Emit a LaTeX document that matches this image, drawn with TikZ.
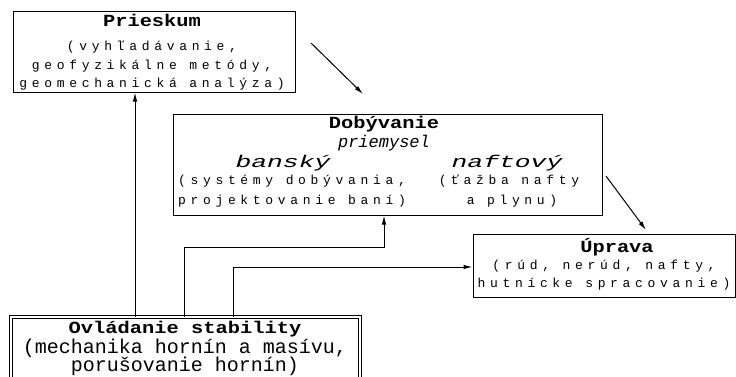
\documentclass[tikz,border=0pt]{standalone}
\usepackage{fontspec}
\setmonofont{Liberation Mono}
\newfontfamily\headfont[FakeStretch=1.2]{Liberation Mono}
\newfontfamily\spacedfont[LetterSpace=36]{Liberation Mono}
\newfontfamily\widefont[FakeStretch=1.55]{Liberation Mono}
\usetikzlibrary{arrows.meta}
\tikzset{
  box/.style={draw,line width=1pt,inner sep=0pt},
  head/.style={anchor=base,inner sep=0pt,font=\fontsize{17}{18}\selectfont\headfont\bfseries},
  sub/.style={anchor=base,inner sep=0pt,font=\fontsize{17}{18}\selectfont\ttfamily\itshape},
  wide/.style={anchor=base,inner sep=0pt,font=\fontsize{17}{18}\selectfont\widefont\itshape},
  body/.style={anchor=base,inner sep=0pt,font=\fontsize{13}{14}\selectfont\spacedfont},
  plain/.style={anchor=base,inner sep=0pt,font=\fontsize{20}{21}\selectfont\ttfamily}
}
\begin{document}
\begin{tikzpicture}[x=1pt,y=-1pt,line width=1pt,>={Latex[length=9pt,width=4.5pt]}]
  \useasboundingbox (0,0) rectangle (736,376);
  \clip (0,0) rectangle (736,376);
  \node[box,minimum width=282pt,minimum height=81pt] (prieskum) at (154,51.5) {};
  \node[box,minimum width=429pt,minimum height=101pt] (dobyvanie) at (387.5,164.5) {};
  \node[box,minimum width=262pt,minimum height=63pt] (uprava) at (604,265.5) {};
  \node[box,double,double distance=2pt,minimum width=349pt,minimum height=90pt] (ovladanie) at (185.5,362) {};
  % Prieskum
  \node[head] (pr0) at (152,26) {Prieskum};
  \node[body] (pr1) at (152,50) {(vyhľadávanie,};
  \node[body] (pr2) at (152,69) {geofyzikálne metódy,};
  \node[body] (pr3) at (152,87) {geomechanická analýza)};
  % Dobyvanie
  \node[head] (do0) at (384,128) {Dobývanie};
  \node[sub] (do1) at (384,147) {priemysel};
  \node[wide] (ba0) at (283,167) {banský};
  \node[wide] (na0) at (507,167) {naftový};
  \node[body] (ba1) at (292,184) {(systémy dobývania,};
  \node[body] (ba2) at (292,204) {projektovanie baní)};
  \node[body] (na1) at (509,184) {(ťažba nafty};
  \node[body] (na2) at (512,204) {a plynu)};
  % Uprava
  \node[head] (up0) at (617,252) {Úprava};
  \node[body] (up1) at (604,269) {(rúd, nerúd, nafty,};
  \node[body] (up2) at (604,287) {hutnícke spracovanie)};
  % Ovladanie stability
  \node[head] (ov0) at (185,333) {Ovládanie stability};
  \node[plain] (ov1) at (185,353) {(mechanika hornín a masívu,};
  \node[plain] (ov2) at (185,371) {porušovanie hornín)};
  % connectors
  \coordinate (pfoot) at (135,0);
  \coordinate (dfoot) at (184,0);
  \coordinate (dbend) at (384,247);
  \coordinate (ufoot) at (233,267);
  \draw[->] (ovladanie.north -| pfoot) -- (prieskum.south -| pfoot);
  \draw[->] (ovladanie.north -| dfoot) |- (dbend) -- (dobyvanie.south -| dbend);
  \draw[->] (ovladanie.north -| ufoot) |- (uprava.west |- ufoot);
  % flow arrows
  \coordinate (flow1a) at (311,43);
  \coordinate (flow1b) at (363,94);
  \coordinate (flow2a) at (606,176);
  \coordinate (flow2b) at (646,230);
  \draw[->] (flow1a) -- (flow1b);
  \draw[->] (flow2a) -- (flow2b);
\end{tikzpicture}
\end{document}
